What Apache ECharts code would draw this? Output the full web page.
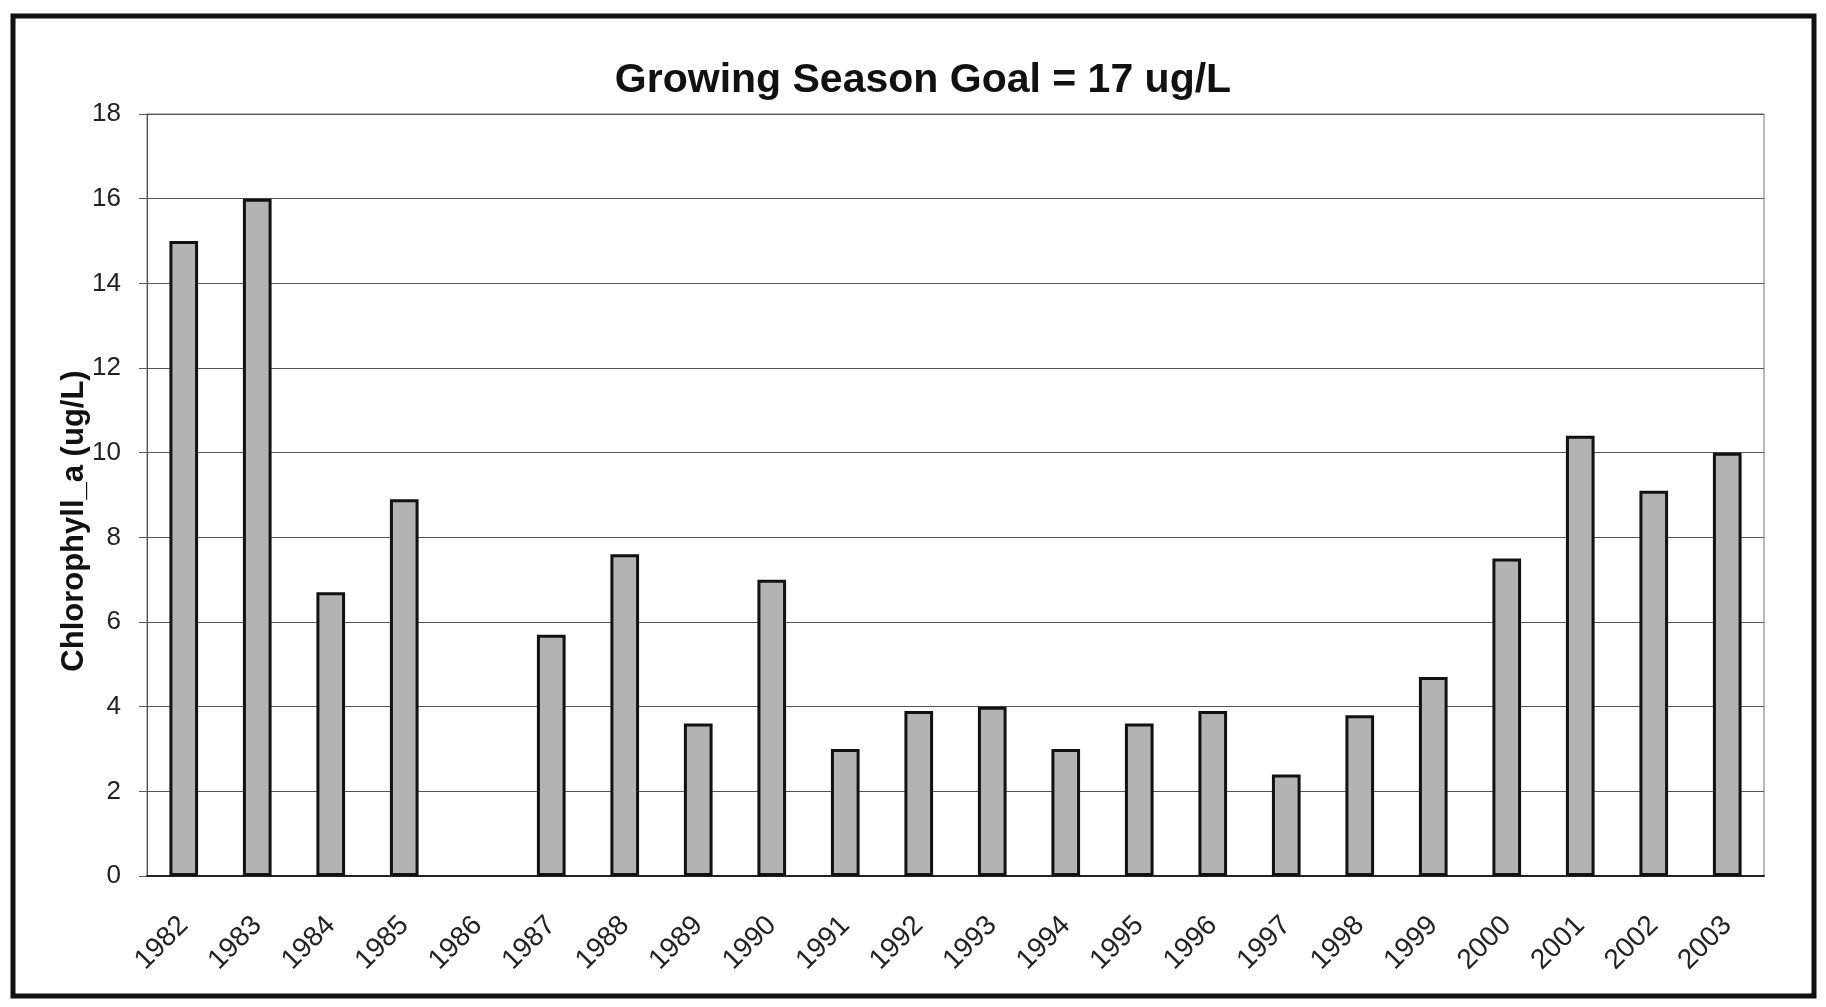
<!DOCTYPE html>
<html>
<head>
<meta charset="utf-8">
<script src="https://cdn.jsdelivr.net/npm/echarts@6/dist/echarts.min.js"></script>
<style>
html,body{margin:0;padding:0;background:#fff;}
#chart{width:1826px;height:1007px;}
</style>
</head>
<body>
<div id="chart"></div>
<script>
const titleText = 'Growing Season Goal = 17 ug/L';
const yAxisName = 'Chlorophyll_a (ug/L)';
const years = ['1982','1983','1984','1985','1986','1987','1988','1989','1990','1991','1992','1993','1994','1995','1996','1997','1998','1999','2000','2001','2002','2003'];
const chlorophyll = [15.0, 16.0, 6.7, 8.9, null, 5.7, 7.6, 3.6, 7.0, 3.0, 3.9, 4.0, 3.0, 3.6, 3.9, 2.4, 3.8, 4.7, 7.5, 10.4, 9.1, 10.0];
const yMin = 0, yMax = 18, yStep = 2;

const chart = echarts.init(document.getElementById('chart'), null, {renderer: 'canvas'});
const font = '"Liberation Sans", Arial, sans-serif';
chart.setOption({
  backgroundColor: '#ffffff',
  animation: false,
  title: {
    text: titleText,
    left: 918, top: 55, textAlign: 'center',
    textStyle: {fontFamily: font, fontWeight: 'bold', fontSize: 41, color: '#111'}
  },
  graphic: [{
    type: 'rect',
    shape: {x: 13, y: 16, width: 1801, height: 980},
    style: {fill: 'none', stroke: '#111', lineWidth: 5},
    silent: true
  }],
  grid: {
    left: 147, right: 62, top: 114, bottom: 131,
    show: true, borderColor: '#777', borderWidth: 1, backgroundColor: 'transparent'
  },
  xAxis: {
    type: 'category',
    data: years,
    axisLine: {show: true, lineStyle: {color: '#222', width: 2}},
    axisTick: {show: false},
    axisLabel: {
      rotate: 45, interval: 0, margin: 45,
      fontFamily: font, fontSize: 28, color: '#222'
    },
    splitLine: {show: false}
  },
  yAxis: {
    type: 'value',
    min: yMin, max: yMax, interval: yStep,
    name: yAxisName,
    nameLocation: 'middle',
    nameGap: 57,
    nameMoveOverlap: false,
    nameRotate: 90,
    nameTextStyle: {fontFamily: font, fontWeight: 'bold', fontSize: 31, color: '#111', padding: [0, 52, 0, 0]},
    axisLine: {show: true, lineStyle: {color: '#555', width: 1}},
    axisTick: {show: true, inside: false, length: 8, lineStyle: {color: '#555'}},
    axisLabel: {fontFamily: font, fontSize: 26, color: '#222', margin: 26},
    splitLine: {show: true, lineStyle: {color: '#555', width: 1.2}}
  },
  series: [{
    type: 'bar',
    data: chlorophyll,
    barWidth: '39%',
    itemStyle: {color: '#b3b3b3', borderColor: '#111', borderWidth: 3}
  }]
});
</script>
</body>
</html>
